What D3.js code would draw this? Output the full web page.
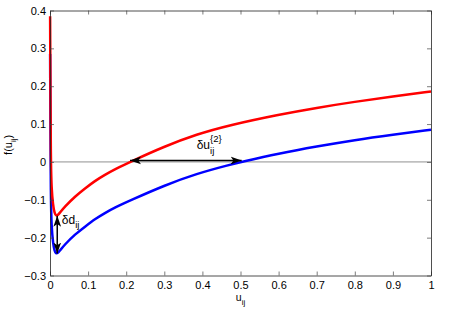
<!DOCTYPE html>
<html>
<head>
<meta charset="utf-8">
<script src="https://cdn.jsdelivr.net/npm/d3@7"></script>
<style>
  body { margin: 0; background: #fff; }
  svg { font-family: "Liberation Sans", Arial, sans-serif; }
</style>
</head>
<body>
<div id="chart"></div>
<script>
// values
const uRed = [0.0003, 0.002, 0.004, 0.008, 0.012, 0.016, 0.02, 0.026, 0.039, 0.066, 0.092,
  0.118, 0.144, 0.171, 0.21, 0.3, 0.385, 0.47, 0.6, 0.7, 0.8, 0.9, 1.0];
const fRed = [0.385, 0.0, -0.07, -0.115, -0.136, -0.142, -0.141, -0.134, -0.118, -0.091, -0.07,
  -0.05, -0.034, -0.019, 0.0, 0.041, 0.073, 0.097, 0.125, 0.143, 0.159, 0.173, 0.186];
const uBlue = [0.0003, 0.002, 0.004, 0.008, 0.012, 0.016, 0.02, 0.026, 0.039, 0.066, 0.092,
  0.118, 0.144, 0.171, 0.21, 0.3, 0.385, 0.47, 0.503, 0.6, 0.7, 0.8, 0.9, 1.0];
const fBlue = [0.285, -0.1, -0.17, -0.215, -0.236, -0.242, -0.241, -0.234, -0.218, -0.191, -0.171,
  -0.151, -0.135, -0.12, -0.102, -0.062, -0.031, -0.008, 0.0, 0.022, 0.041, 0.058, 0.072, 0.085];

const xTicks = [0, 0.1, 0.2, 0.3, 0.4, 0.5, 0.6, 0.7, 0.8, 0.9, 1];
const yTicks = [-0.3, -0.2, -0.1, 0, 0.1, 0.2, 0.3, 0.4];

// annotation anchors (data coordinates)
const deltaU = [0.21, 0.503];
const deltaD = { u: 0.019, from: -0.142, to: -0.242 };

const width = 457, height = 311;
const margin = { top: 10.5, right: 26, bottom: 35.5, left: 50 };

const svg = d3.select("#chart")
  .append("svg")
  .attr("width", width)
  .attr("height", height);

const xScale = d3.scaleLinear()
  .domain([0, 1])
  .range([margin.left, width - margin.right]);

const yScale = d3.scaleLinear()
  .domain([-0.3, 0.4])
  .range([height - margin.bottom, margin.top]);

const fmt = d3.format("~g");

// zero line
svg.append("line")
  .attr("x1", xScale(0))
  .attr("x2", xScale(1))
  .attr("y1", yScale(0))
  .attr("y2", yScale(0))
  .attr("stroke", "#444")
  .attr("stroke-width", 0.6);

// curves
const line = d3.line()
  .x((d) => xScale(d[0]))
  .y((d) => yScale(d[1]))
  .curve(d3.curveBasis);

svg.append("path")
  .datum(d3.zip(uBlue, fBlue))
  .attr("fill", "none")
  .attr("stroke", "#0000ff")
  .attr("stroke-width", 2.5)
  .attr("d", line);

svg.append("path")
  .datum(d3.zip(uRed, fRed))
  .attr("fill", "none")
  .attr("stroke", "#ff0000")
  .attr("stroke-width", 2.5)
  .attr("d", line);

// axes, MATLAB style box with inner ticks
const axBottom = svg.append("g")
  .attr("transform", "translate(0," + yScale(-0.3) + ")")
  .call(d3.axisBottom(xScale).tickValues(xTicks).tickFormat(fmt)
    .tickSizeInner(-4).tickSizeOuter(0).tickPadding(6));
const axTop = svg.append("g")
  .attr("transform", "translate(0," + yScale(0.4) + ")")
  .call(d3.axisTop(xScale).tickValues(xTicks).tickFormat("")
    .tickSizeInner(-4).tickSizeOuter(0));
const axLeft = svg.append("g")
  .attr("transform", "translate(" + xScale(0) + ",0)")
  .call(d3.axisLeft(yScale).tickValues(yTicks).tickFormat(fmt)
    .tickSizeInner(-4).tickSizeOuter(0).tickPadding(4));
const axRight = svg.append("g")
  .attr("transform", "translate(" + xScale(1) + ",0)")
  .call(d3.axisRight(yScale).tickValues(yTicks).tickFormat("")
    .tickSizeInner(-4).tickSizeOuter(0));

[axBottom, axTop, axLeft, axRight].forEach((g) => {
  g.select(".domain").attr("stroke", "#222").attr("stroke-width", 0.8);
  g.selectAll(".tick line").attr("stroke", "#444").attr("stroke-width", 0.7);
  g.selectAll(".tick text").attr("font-size", 11).attr("fill", "#000")
    .attr("font-family", "Liberation Sans, Arial, sans-serif");
});

// arrow marker
svg.append("defs")
  .append("marker")
  .attr("id", "head")
  .attr("viewBox", "0 0 10 10")
  .attr("refX", 10)
  .attr("refY", 5)
  .attr("markerWidth", 11)
  .attr("markerHeight", 11)
  .attr("markerUnits", "userSpaceOnUse")
  .attr("orient", "auto-start-reverse")
  .append("path")
  .attr("d", "M0,1.5 L10,5 L0,8.5 L2.5,5 Z")
  .attr("fill", "#000");

// delta u arrow
svg.append("line")
  .attr("x1", xScale(deltaU[0]))
  .attr("x2", xScale(deltaU[1]))
  .attr("y1", yScale(0) - 1.5)
  .attr("y2", yScale(0) - 1.5)
  .attr("stroke", "#000")
  .attr("stroke-width", 1.5)
  .attr("marker-start", "url(#head)")
  .attr("marker-end", "url(#head)");

// delta d arrow
svg.append("line")
  .attr("x1", xScale(deltaD.u))
  .attr("x2", xScale(deltaD.u))
  .attr("y1", yScale(deltaD.from))
  .attr("y2", yScale(deltaD.to))
  .attr("stroke", "#000")
  .attr("stroke-width", 1.5)
  .attr("marker-start", "url(#head)")
  .attr("marker-end", "url(#head)");

// labels with sub/superscripts
function subLabel(x, y, main, sub, sup, size) {
  const t = svg.append("text")
    .attr("x", x)
    .attr("y", y)
    .attr("font-size", size)
    .attr("fill", "#000");
  t.append("tspan").text(main);
  if (sup) {
    const tSup = t.append("tspan").attr("font-size", size * 0.8).attr("dy", -7).text(sup);
    const w = tSup.node().getComputedTextLength();
    t.append("tspan").attr("font-size", size * 0.8).attr("dx", -w).attr("dy", 12).text(sub);
  } else {
    t.append("tspan").attr("font-size", size * 0.8).attr("dy", 4).text(sub);
  }
  return t;
}

subLabel(xScale(0.385), yScale(0.035), "δu", "ij", "{2}", 12);
subLabel(xScale(0.031), yScale(-0.165), "δd", "ij", null, 12);

// axis titles
const xLab = svg.append("text")
  .attr("x", xScale(0.5))
  .attr("y", 301)
  .attr("text-anchor", "middle")
  .attr("font-size", 10.5);
xLab.append("tspan").text("u");
xLab.append("tspan").attr("font-size", 8).attr("dy", 4).text("ij");

const yLab = svg.append("text")
  .attr("transform", "translate(12," + yScale(0.045) + ") rotate(-90)")
  .attr("text-anchor", "middle")
  .attr("font-size", 11);
yLab.append("tspan").text("f(u");
yLab.append("tspan").attr("font-size", 8).attr("dy", 4).text("ij");
yLab.append("tspan").attr("dy", -4).text(")");
</script>
</body>
</html>
